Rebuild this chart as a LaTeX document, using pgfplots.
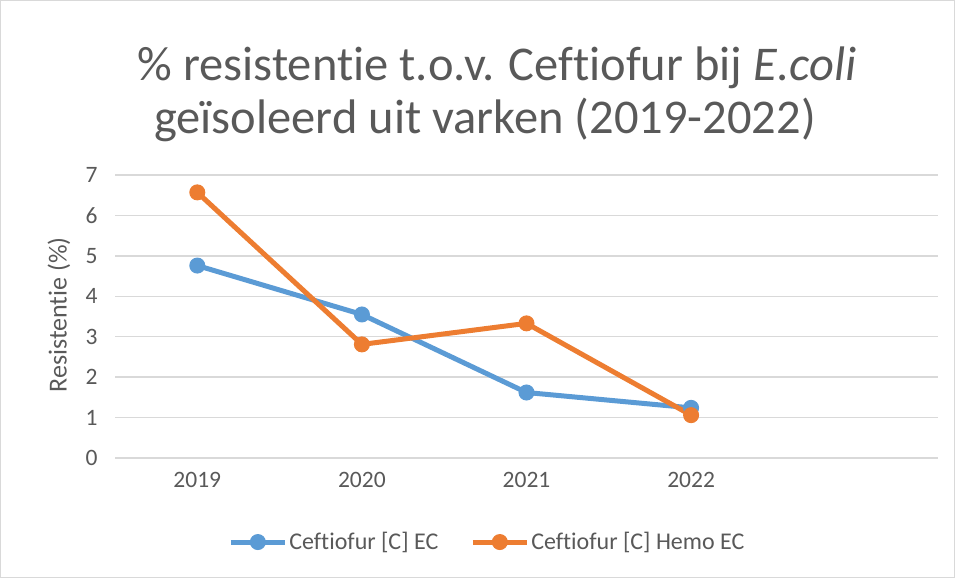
\documentclass[border=0pt]{standalone}
\usepackage{pgfplots}
\pgfplotsset{compat=1.18}
\usepackage{fontspec}
\setmainfont{Carlito}[Ligatures=NoCommon]
\definecolor{sblue}{HTML}{5B9BD5}
\definecolor{sorange}{HTML}{ED7D31}
\definecolor{gridc}{HTML}{D9D9D9}
\definecolor{txt}{HTML}{595959}
\begin{document}
\begin{tikzpicture}[x=1pt,y=1pt]
\path[use as bounding box] (0,0) rectangle (955,578);
\draw[gridc, line width=1pt] (0.5,0.5) rectangle (954.5,577.5);
% title, two centred lines
\node[anchor=base, text=txt, font=\fontsize{48.5}{58}\selectfont] at (497,497) {\% resistentie t.o.v. Ceftiofur bij \textit{E.coli}};
\node[anchor=base, text=txt, font=\fontsize{48.5}{58}\selectfont] at (485,444) {geïsoleerd uit varken (2019-2022)};
% y label
\node[rotate=90, text=txt, font=\fontsize{26}{30}\selectfont] at (59,263) {Resistentie (\%)};
\begin{axis}[
    at={(115pt,120pt)}, anchor=south west,
    scale only axis, width=823pt, height=283pt,
    xmin=-0.5, xmax=4.5, ymin=0, ymax=7,
    xtick={0,1,2,3}, xticklabels={2019,2020,2021,2022},
    ytick={0,1,2,3,4,5,6,7},
    ymajorgrids, grid style={gridc, line width=1.3pt},
    axis line style={draw=none},
    major tick length=0pt,
    clip=false,
    /pgf/number format/assume math mode=true,
    ticklabel style={text=txt, font=\fontsize{23.5}{28}\selectfont},
    xticklabel style={yshift=-11pt},
    yticklabel style={xshift=-14pt},
    legend style={at={(0.4525,-0.297)}, anchor=center, draw=none,
        font=\fontsize{24}{28}\selectfont, text=txt, legend columns=2,
        /tikz/every even column/.append style={column sep=30pt}},
    legend image code/.code={\draw[mark repeat=2, mark phase=2, #1] plot coordinates {(0pt,0pt) (27pt,0pt) (54pt,0pt)};},
]
\addplot[sblue, line width=5pt, mark=*, mark size=7.5pt, mark options={solid, fill=sblue, draw=sblue, line width=1pt}] coordinates {
    (0,4.76) (1,3.55) (2,1.62) (3,1.24)
};
\addlegendentry{Ceftiofur [C] EC}
\addplot[sorange, line width=5pt, mark=*, mark size=7.5pt, mark options={solid, fill=sorange, draw=sorange, line width=1pt}] coordinates {
    (0,6.57) (1,2.81) (2,3.33) (3,1.06)
};
\addlegendentry{Ceftiofur [C] Hemo EC}
\end{axis}
\end{tikzpicture}
\end{document}
